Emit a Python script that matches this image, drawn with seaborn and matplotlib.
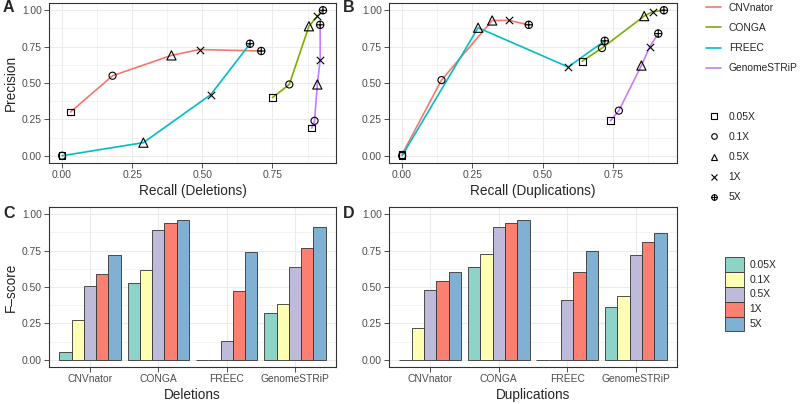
import pandas as pd
import matplotlib
matplotlib.use("Agg")
import matplotlib.pyplot as plt
import seaborn as sns
from matplotlib.path import Path
from matplotlib.lines import Line2D
from matplotlib.patches import Patch
from matplotlib.ticker import MultipleLocator

coverages = ["0.05X", "0.1X", "0.5X", "1X", "5X"]
tools = ["CNVnator", "CONGA", "FREEC", "GenomeSTRiP"]

# precision / recall, deletions (panel A)
del_recall = {
    "CNVnator": [0.03, 0.18, 0.39, 0.49, 0.71],
    "CONGA": [0.75, 0.81, 0.88, 0.91, 0.93],
    "FREEC": [0.00, 0.00, 0.29, 0.53, 0.67],
    "GenomeSTRiP": [0.89, 0.90, 0.91, 0.92, 0.92],
}
del_precision = {
    "CNVnator": [0.30, 0.55, 0.69, 0.73, 0.72],
    "CONGA": [0.40, 0.49, 0.89, 0.96, 1.00],
    "FREEC": [0.00, 0.00, 0.09, 0.42, 0.77],
    "GenomeSTRiP": [0.19, 0.24, 0.49, 0.66, 0.90],
}

# precision / recall, duplications (panel B)
dup_recall = {
    "CNVnator": [0.00, 0.14, 0.32, 0.38, 0.45],
    "CONGA": [0.64, 0.71, 0.86, 0.89, 0.93],
    "FREEC": [0.00, 0.00, 0.27, 0.59, 0.72],
    "GenomeSTRiP": [0.74, 0.77, 0.85, 0.88, 0.91],
}
dup_precision = {
    "CNVnator": [0.01, 0.52, 0.93, 0.93, 0.90],
    "CONGA": [0.65, 0.74, 0.96, 0.99, 1.00],
    "FREEC": [0.00, 0.00, 0.88, 0.61, 0.79],
    "GenomeSTRiP": [0.24, 0.31, 0.62, 0.75, 0.84],
}

# F-scores (panels C and D)
del_fscore = {
    "CNVnator": [0.05, 0.27, 0.51, 0.59, 0.72],
    "CONGA": [0.53, 0.62, 0.89, 0.94, 0.96],
    "FREEC": [0.00, 0.00, 0.13, 0.47, 0.74],
    "GenomeSTRiP": [0.32, 0.38, 0.64, 0.77, 0.91],
}
dup_fscore = {
    "CNVnator": [0.00, 0.22, 0.48, 0.54, 0.60],
    "CONGA": [0.64, 0.73, 0.91, 0.94, 0.96],
    "FREEC": [0.00, 0.00, 0.41, 0.60, 0.75],
    "GenomeSTRiP": [0.36, 0.44, 0.72, 0.81, 0.87],
}

tool_colors = dict(zip(tools, ["#F8766D", "#7CAE00", "#00BFC4", "#C77CFF"]))
cov_colors = dict(zip(coverages, ["#8DD3C7", "#FFFFB3", "#BEBADA", "#FB8072", "#80B1D3"]))

# circle with a plus inside (ggplot shape 10)
circle_plus = Path.make_compound_path(
    Path.unit_circle(),
    Path([[-1, 0], [1, 0], [0, -1], [0, 1]],
         [Path.MOVETO, Path.LINETO, Path.MOVETO, Path.LINETO]),
)
cov_markers = dict(zip(coverages, ["s", "o", "^", "x", circle_plus]))
cov_sizes = dict(zip(coverages, [24, 26, 44, 28, 28]))


def long_pr(recall, precision):
    rows = []
    for t in tools:
        for c, r, p in zip(coverages, recall[t], precision[t]):
            rows.append({"tool": t, "coverage": c, "recall": r, "precision": p})
    return pd.DataFrame(rows)


def long_f(fscore):
    rows = []
    for t in tools:
        for c, f in zip(coverages, fscore[t]):
            rows.append({"tool": t, "coverage": c, "fscore": f})
    return pd.DataFrame(rows)


sns.set_theme(style="white")
plt.rcParams["font.family"] = ["Liberation Sans", "DejaVu Sans"]
GRAY = "#4D4D4D"


def style_axes(ax):
    for s in ax.spines.values():
        s.set_color("#333333")
        s.set_linewidth(0.8)
    ax.tick_params(axis="both", which="major", length=3.5, width=0.6, color="#333333",
                   labelsize=7.4, labelcolor=GRAY, pad=1.5, bottom=True, left=True)
    ax.tick_params(axis="both", which="minor", length=0)
    ax.grid(True, which="major", color="#EBEBEB", lw=0.8)
    ax.grid(True, which="minor", color="#EBEBEB", lw=0.4)
    ax.set_axisbelow(True)


def pr_panel(ax, df, xlabel, ylabel):
    sns.lineplot(data=df, x="recall", y="precision", hue="tool", palette=tool_colors,
                 units="tool", estimator=None, sort=False, lw=1.2, legend=False, ax=ax)
    for c in coverages:
        sub = df[df["coverage"] == c]
        if c == "1X":
            sns.scatterplot(x=sub["recall"], y=sub["precision"], marker="x", color="black",
                            s=cov_sizes[c], linewidth=0.8, ax=ax, zorder=5)
        else:
            sns.scatterplot(x=sub["recall"], y=sub["precision"], marker=cov_markers[c],
                            facecolors="none", edgecolor="black", s=cov_sizes[c],
                            linewidth=0.8, ax=ax, zorder=5)
    ax.set_xlim(-0.0465, 0.9765)
    ax.set_ylim(-0.05, 1.05)
    ax.xaxis.set_major_locator(MultipleLocator(0.25))
    ax.yaxis.set_major_locator(MultipleLocator(0.25))
    ax.xaxis.set_minor_locator(MultipleLocator(0.125))
    ax.yaxis.set_minor_locator(MultipleLocator(0.125))
    ax.xaxis.set_major_formatter(lambda v, p: f"{v:.2f}")
    ax.yaxis.set_major_formatter(lambda v, p: f"{v:.2f}")
    style_axes(ax)
    ax.set_xlabel(xlabel, fontsize=9.8, labelpad=3)
    ax.set_ylabel(ylabel, fontsize=9.8, labelpad=3)


def f_panel(ax, df, xlabel, ylabel):
    sns.barplot(data=df, x="tool", y="fscore", hue="coverage", palette=cov_colors,
                width=0.9, saturation=1, edgecolor="#333333", linewidth=0.6,
                legend=False, ax=ax)
    ax.set_xlim(-0.6, 3.6)
    ax.set_ylim(-0.05, 1.05)
    ax.yaxis.set_major_locator(MultipleLocator(0.25))
    ax.yaxis.set_minor_locator(MultipleLocator(0.125))
    ax.yaxis.set_major_formatter(lambda v, p: f"{v:.2f}")
    style_axes(ax)
    ax.grid(False, axis="x", which="minor")
    ax.set_xlabel(xlabel, fontsize=9.8, labelpad=3)
    ax.set_ylabel(ylabel, fontsize=9.8, labelpad=3)


fig = plt.figure(figsize=(8, 4.04), dpi=100)
W, H = 800, 404


def add_ax(left, top, right, bottom):
    return fig.add_axes([left / W, 1 - bottom / H, (right - left) / W, (bottom - top) / H])


ax_a = add_ax(49, 3, 336, 163)
ax_b = add_ax(389, 3, 677, 163)
ax_c = add_ax(49, 207, 336, 367)
ax_d = add_ax(389, 207, 677, 367)

pr_panel(ax_a, long_pr(del_recall, del_precision), "Recall (Deletions)", "Precision")
pr_panel(ax_b, long_pr(dup_recall, dup_precision), "Recall (Duplications)", "")
f_panel(ax_c, long_f(del_fscore), "Deletions", "F\u2013score")
f_panel(ax_d, long_f(dup_fscore), "Duplications", "")

for lab, x, y in [("A", 3, 8), ("B", 343, 8), ("C", 3, 214), ("D", 343, 214)]:
    fig.text(x / W, 1 - y / H, lab, fontsize=11.5, fontweight="bold", va="center", ha="left")

# legends
tool_handles = [Line2D([], [], color=tool_colors[t], lw=1.2) for t in tools]
leg1 = fig.legend(tool_handles, tools, loc="upper left", bbox_to_anchor=(706 / W, 1 - 3 / H),
                  frameon=False, fontsize=7.4, handlelength=1.46, handletextpad=0.75,
                  labelspacing=0.98, borderpad=0, borderaxespad=0)
shape_handles = []
for c in coverages:
    if c == "1X":
        shape_handles.append(Line2D([], [], ls="none", marker="x", color="black", ms=3.8, mew=0.8))
    else:
        shape_handles.append(Line2D([], [], ls="none", marker=cov_markers[c], mfc="none",
                                    mec="black", ms=4.0, mew=0.8))
leg2 = fig.legend(shape_handles, coverages, loc="upper left", bbox_to_anchor=(706 / W, 1 - 112 / H),
                  frameon=False, fontsize=7.4, handlelength=1.46, handletextpad=0.75,
                  labelspacing=0.98, borderpad=0, borderaxespad=0)
bar_handles = [Patch(facecolor=cov_colors[c], edgecolor="#333333", lw=0.6) for c in coverages]
leg3 = fig.legend(bar_handles, coverages, loc="upper left", bbox_to_anchor=(725 / W, 1 - 257 / H),
                  frameon=False, fontsize=7.4, handlelength=1.85, handleheight=1.85,
                  handletextpad=0.55, labelspacing=0.0, borderpad=0, borderaxespad=0)

fig.savefig("out.png", dpi=100)
